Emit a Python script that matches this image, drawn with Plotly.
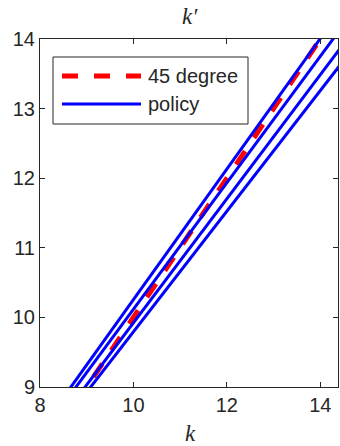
import plotly.graph_objects as go

# Data
k_ends = [8.0, 14.5]                 # k range over which lines are drawn
deg45 = [8.0, 14.5]                  # 45 degree line k' = k
policy_lines = [                     # k' at k = 8.0 and k = 14.5
    [8.38, 14.475],
    [8.30, 14.205],
    [8.14, 13.931],
    [8.06, 13.692],
]
xticks = [8, 10, 12, 14]
yticks = [9, 10, 11, 12, 13, 14]

RED = "#ff0000"
BLUE = "#0000ff"
AX = "#262626"

fig = go.Figure()
fig.add_trace(go.Scatter(x=k_ends, y=deg45, mode="lines", name="45 degree",
                         line=dict(color=RED, width=5, dash="16px,16px"),
                         showlegend=False))
for i, pl in enumerate(policy_lines):
    fig.add_trace(go.Scatter(x=k_ends, y=pl, mode="lines", name="policy",
                             line=dict(color=BLUE, width=3), showlegend=False))

# manual MATLAB-style legend
L, R, T, B = 40, 338, 39, 387
W, H = R - L, B - T
def px(x):
    return (x - L) / W
def py(y):
    return (B - y) / H

shapes = [
    dict(type="rect", xref="paper", yref="paper", x0=px(53), x1=px(248),
         y0=py(124), y1=py(57), line=dict(color=AX, width=1), fillcolor="white", layer="above"),
    dict(type="line", xref="paper", yref="paper", x0=px(62), x1=px(141),
         y0=py(76), y1=py(76), line=dict(color=RED, width=5, dash="16px,16px"), layer="above"),
    dict(type="line", xref="paper", yref="paper", x0=px(62), x1=px(141),
         y0=py(104), y1=py(104), line=dict(color=BLUE, width=3), layer="above"),
]
annotations = [
    dict(text="45 degree", xref="paper", yref="paper", x=px(146), y=py(76),
         xanchor="left", yanchor="middle", showarrow=False,
         font=dict(family="Liberation Sans, Arial", size=20, color=AX)),
    dict(text="policy", xref="paper", yref="paper", x=px(146), y=py(104),
         xanchor="left", yanchor="middle", showarrow=False,
         font=dict(family="Liberation Sans, Arial", size=20, color=AX)),
    dict(text="<i>k</i>", xref="paper", yref="paper", x=px(190), y=py(433),
         xanchor="center", yanchor="middle", showarrow=False,
         font=dict(family="Liberation Serif, Times New Roman", size=23, color=AX)),
    dict(text="<i>k′</i>", xref="paper", yref="paper", x=px(190), y=py(17),
         xanchor="center", yanchor="middle", showarrow=False,
         font=dict(family="Liberation Serif, Times New Roman", size=23, color=AX)),
]

axis_common = dict(showline=True, mirror="ticks", linecolor=AX, linewidth=1,
                   ticks="inside", ticklen=5, tickcolor=AX, tickwidth=1,
                   showgrid=False, zeroline=False, automargin=False,
                   tickfont=dict(family="Liberation Sans, Arial", size=20, color=AX))

fig.update_layout(
    width=340, height=446,
    margin=dict(l=L, r=340 - R, t=T, b=446 - B, autoexpand=False),
    paper_bgcolor="white", plot_bgcolor="white",
    xaxis=dict(range=[8, 14.38], tickvals=xticks, **axis_common),
    yaxis=dict(range=[9, 14], tickvals=yticks, **axis_common),
    shapes=shapes, annotations=annotations,
)

fig.write_html("out.html", config={"displayModeBar": False},
               post_script="document.body.style.margin='0';document.body.style.overflow='hidden';")
